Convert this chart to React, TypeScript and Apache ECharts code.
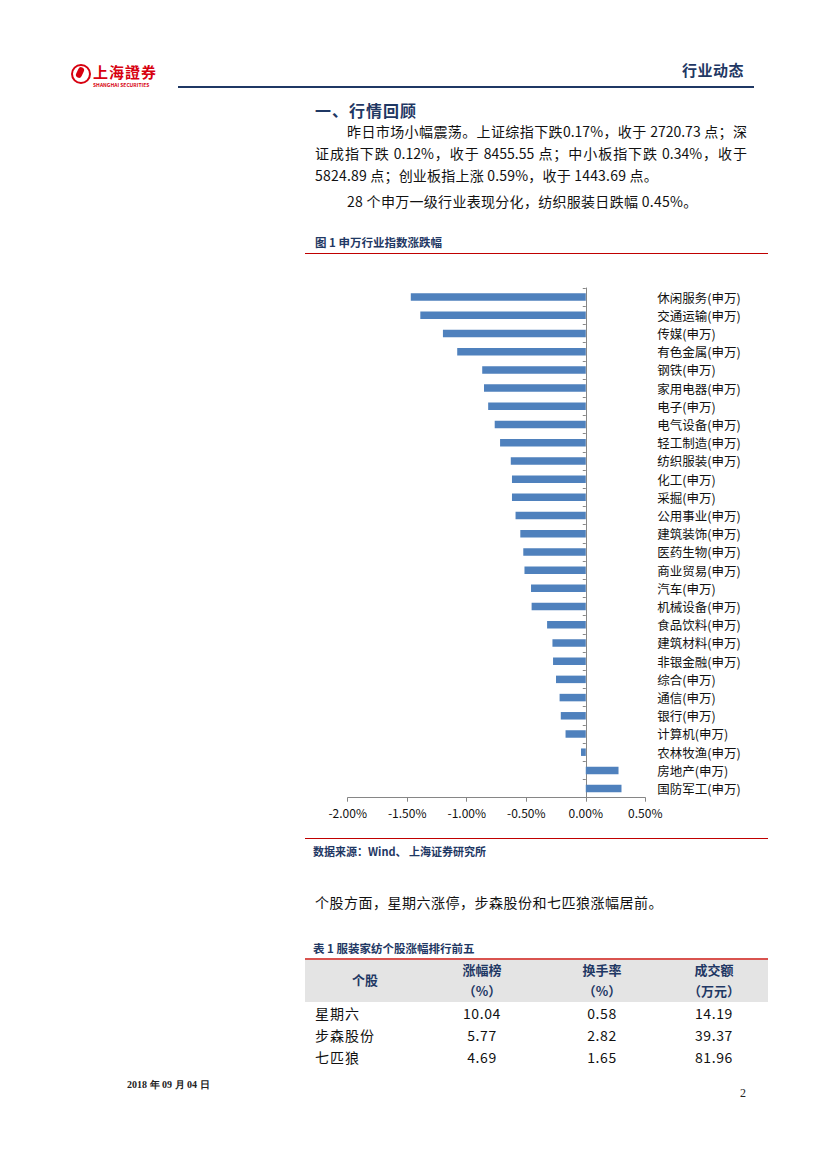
import React, { useEffect, useRef } from "react";
import * as echarts from "echarts";

const categories = [
  "休闲服务(申万)", "交通运输(申万)", "传媒(申万)", "有色金属(申万)", "钢铁(申万)",
  "家用电器(申万)", "电子(申万)", "电气设备(申万)", "轻工制造(申万)", "纺织服装(申万)",
  "化工(申万)", "采掘(申万)", "公用事业(申万)", "建筑装饰(申万)", "医药生物(申万)",
  "商业贸易(申万)", "汽车(申万)", "机械设备(申万)", "食品饮料(申万)", "建筑材料(申万)",
  "非银金融(申万)", "综合(申万)", "通信(申万)", "银行(申万)", "计算机(申万)",
  "农林牧渔(申万)", "房地产(申万)", "国防军工(申万)",
];
const changes = [
  -1.47, -1.39, -1.2, -1.08, -0.87,
  -0.855, -0.82, -0.765, -0.72, -0.63,
  -0.62, -0.62, -0.59, -0.55, -0.525,
  -0.515, -0.46, -0.455, -0.325, -0.28,
  -0.275, -0.25, -0.22, -0.21, -0.17,
  -0.04, 0.275, 0.3,
];
const xMin = -2;
const xMax = 0.5;
const xStep = 0.5;

const tableHeader = ["个股", "涨幅榜", "换手率", "成交额"];
const tableUnits = ["", "（%）", "（%）", "（万元）"];
const stockNames = ["星期六", "步森股份", "七匹狼"];
const stockGain = ["10.04", "5.77", "4.69"];
const stockTurnover = ["0.58", "2.82", "1.65"];
const stockAmount = ["14.19", "39.37", "81.96"];

const NAVY = "#1f3864";
const RED = "#c00000";
const FONT = '"Noto Sans CJK SC", "Noto Sans", sans-serif';

function T(props: {
  x: number; y: number; text: string; size?: number; bold?: boolean; color?: string;
  w?: number; justify?: boolean; center?: boolean; ls?: number; font?: string; lh?: number;
}) {
  const { x, y, text, size = 14, bold, color = "#111", w, justify, center, ls = 0, font, lh = 20 } = props;
  const style: any = {
    position: "absolute",
    top: y - lh / 2,
    lineHeight: lh + "px",
    height: lh,
    fontSize: size,
    fontWeight: bold ? 700 : 400,
    color,
    fontFamily: font || FONT,
    whiteSpace: "nowrap",
    letterSpacing: ls,
  };
  if (center) {
    style.left = x - 100;
    style.width = 200;
    style.textAlign = "center";
  } else {
    style.left = x;
  }
  if (w !== undefined) {
    style.width = w;
    if (justify) {
      style.textAlign = "justify";
      style.textAlignLast = "justify";
    }
  }
  return <div style={style}>{text}</div>;
}

function Chart() {
  const ref = useRef<HTMLDivElement>(null);
  useEffect(() => {
    if (!ref.current) return;
    const chart = echarts.init(ref.current, undefined, { renderer: "svg" });
    chart.setOption({
      animation: false,
      grid: { left: 42.7, top: 18, width: 297.6, height: 509.7, containLabel: false },
      xAxis: {
        type: "value",
        min: xMin,
        max: xMax,
        interval: xStep,
        splitLine: { show: false },
        axisLine: { show: true, lineStyle: { color: "#868686", width: 1 } },
        axisTick: { show: true, length: 4, lineStyle: { color: "#868686" } },
        axisLabel: {
          margin: 9,
          fontSize: 12,
          color: "#111",
          fontFamily: FONT,
          formatter: (v: number) => v.toFixed(2) + "%",
        },
      },
      yAxis: [
        {
          type: "category",
          data: categories,
          inverse: true,
          position: "left",
          axisLine: { show: true, onZero: true, lineStyle: { color: "#868686", width: 1 } },
          axisTick: { show: true, length: 3, lineStyle: { color: "#868686" } },
          axisLabel: { show: false },
          splitLine: { show: false },
        },
        {
          type: "category",
          data: categories,
          inverse: true,
          position: "right",
          axisLine: { show: false },
          axisTick: { show: false },
          axisLabel: {
            show: true,
            margin: 12,
            fontSize: 12.5,
            color: "#111",
            fontFamily: FONT,
          },
          splitLine: { show: false },
        },
      ],
      series: [
        {
          type: "bar",
          yAxisIndex: 0,
          data: changes,
          barWidth: 7.5,
          itemStyle: { color: "#4f81bd" },
        },
      ],
    });
    return () => chart.dispose();
  }, []);
  return (
    <div
      ref={ref}
      style={{ position: "absolute", left: 305, top: 270, width: 463, height: 560 }}
    />
  );
}

export default function App() {
  const colX = [365, 482, 602, 714];
  const rowY = [1013, 1035, 1057];
  return (
    <div
      style={{
        position: "absolute",
        left: 0,
        top: 0,
        width: 827,
        height: 1169,
        background: "#fff",
        overflow: "hidden",
        fontFamily: FONT,
      }}
    >
      {/* header logo */}
      <div
        style={{
          position: "absolute", left: 71, top: 64, width: 16, height: 16,
          border: "2.5px solid #d7000f", borderRadius: "50%",
        }}
      />
      <div
        style={{
          position: "absolute", left: 77, top: 67, width: 6, height: 11,
          background: "#d7000f", borderRadius: 3, transform: "rotate(25deg)",
        }}
      />
      <T x={93} y={72} lh={16} text="上海證券" size={15} bold color="#d7000f" ls={1} />
      <T x={93} y={84.5} lh={6} text="SHANGHAI SECURITIES" size={5} bold color="#d7000f" />
      <T x={682} y={70} text="行业动态" size={15} bold color={NAVY} ls={0.5} />
      <div style={{ position: "absolute", left: 178, top: 86, width: 576, height: 1.5, background: NAVY }} />

      {/* section */}
      <T x={315} y={110} text="一、行情回顾" size={16} bold color={NAVY} ls={1} />
      <T x={347} y={131} w={400} justify text="昨日市场小幅震荡。上证综指下跌0.17%，收于 2720.73 点；深" />
      <T x={315} y={153} w={432} justify text="证成指下跌 0.12%，收于 8455.55 点；中小板指下跌 0.34%，收于" />
      <T x={315} y={175} ls={0.2} text="5824.89 点；创业板指上涨 0.59%，收于 1443.69 点。" />
      <T x={347} y={201} ls={0.3} text="28 个申万一级行业表现分化，纺织服装日跌幅 0.45%。" />

      <T x={315} y={242} text="图 1 申万行业指数涨跌幅" size={11.5} bold color={NAVY} />
      <div style={{ position: "absolute", left: 305, top: 253, width: 463, height: 1, background: RED }} />

      <Chart />

      <div style={{ position: "absolute", left: 305, top: 838, width: 463, height: 1, background: RED }} />
      <T x={313} y={851} text="数据来源：Wind、 上海证券研究所" size={11} bold color={NAVY} />

      <T x={315} y={902} ls={0.5} text="个股方面，星期六涨停，步森股份和七匹狼涨幅居前。" />

      <T x={313} y={948} text="表 1 服装家纺个股涨幅排行前五" size={11.5} bold color={NAVY} />
      <div style={{ position: "absolute", left: 305, top: 959, width: 463, height: 43, background: "#e4e4e4" }} />
      <div style={{ position: "absolute", left: 305, top: 958, width: 463, height: 1.5, background: "#d9534f" }} />
      <T x={colX[0]} y={980} center text={tableHeader[0]} size={13} bold color={NAVY} />
      {tableHeader.slice(1).map((h, i) => (
        <T key={"h" + i} x={colX[i + 1]} y={970} center text={h} size={13} bold color={NAVY} />
      ))}
      {tableUnits.slice(1).map((h, i) => (
        <T key={"u" + i} x={colX[i + 1]} y={991} center text={h} size={13} bold color={NAVY} />
      ))}
      {stockNames.map((n, i) => (
        <React.Fragment key={"r" + i}>
          <T x={315} y={rowY[i]} text={n} ls={1} />
          <T x={colX[1]} y={rowY[i]} center text={stockGain[i]} ls={0.6} />
          <T x={colX[2]} y={rowY[i]} center text={stockTurnover[i]} ls={0.6} />
          <T x={colX[3]} y={rowY[i]} center text={stockAmount[i]} ls={0.6} />
        </React.Fragment>
      ))}

      <T x={127} y={1085} text="2018 年 09 月 04 日" size={10} bold font='"Liberation Serif", serif' color="#222" />
      <T x={740} y={1093} text="2" size={12} font='"Liberation Serif", serif' color="#222" />
    </div>
  );
}
